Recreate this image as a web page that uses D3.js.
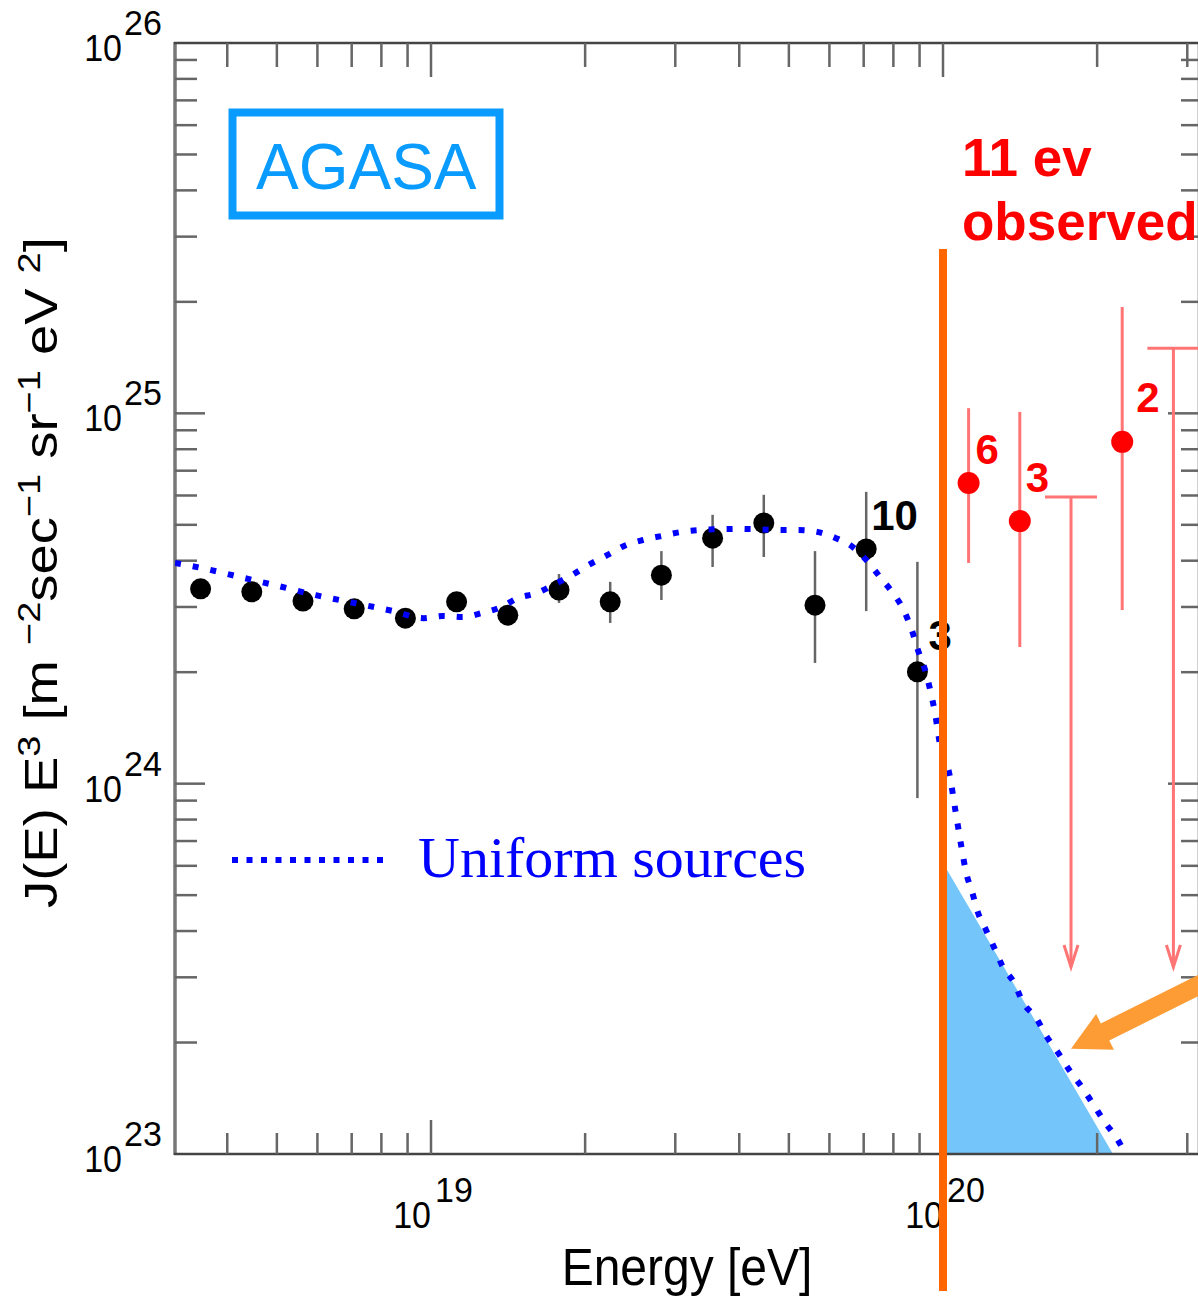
<!DOCTYPE html>
<html>
<head>
<meta charset="utf-8">
<script src="https://cdn.jsdelivr.net/npm/d3@7"></script>
<style>
body { margin: 0; background: #fff; }
svg { display: block; }
</style>
</head>
<body>
<svg></svg>
<script>
// AGASA spectrum, 0.1 decade bins. log10(E/eV), log10(J E^3)
const binLogE = [18.55, 18.65, 18.75, 18.85, 18.95, 19.05, 19.15, 19.25, 19.35, 19.45, 19.55, 19.65, 19.75, 19.85, 19.95];
const binLogJ = [24.526, 24.518, 24.493, 24.472, 24.447, 24.491, 24.455, 24.523, 24.491, 24.563, 24.663, 24.704, 24.482, 24.634, 24.302];
const binHi   = [24.546, 24.538, 24.513, 24.492, 24.467, 24.511, 24.475, 24.566, 24.545, 24.628, 24.726, 24.780, 24.628, 24.788, 24.599];
const binLo   = [24.506, 24.498, 24.473, 24.452, 24.427, 24.471, 24.435, 24.488, 24.434, 24.496, 24.585, 24.612, 24.326, 24.466, 23.961];
const binCount = [null, null, null, null, null, null, null, null, null, null, null, null, null, 10, 3];

// events above 1e20
const hiLogE = [20.05, 20.15, 20.35];
const hiLogJ = [24.812, 24.709, 24.923];
const hiHi   = [25.014, 25.004, 25.287];
const hiLo   = [24.596, 24.369, 24.469];
const hiCount = [6, 3, 2];

// upper limits
const limLogE = [20.25, 20.45];
const limLogJ = [24.774, 25.176];
const limFloor = 23.505;

// uniform sources model
const curveLogE = [18.500, 18.553, 18.627, 18.701, 18.775, 18.850, 18.926, 18.986, 19.023, 19.061, 19.100, 19.137, 19.170, 19.207, 19.242, 19.275, 19.307, 19.344, 19.377, 19.414, 19.451, 19.490, 19.525, 19.602, 19.678, 19.717, 19.754, 19.791, 19.824, 19.852, 19.877, 19.902, 19.922, 19.939, 19.951, 19.965, 19.975, 19.984, 19.996, 20.012, 20.025, 20.037, 20.045, 20.057, 20.068, 20.084, 20.102, 20.117, 20.139, 20.156, 20.182, 20.203, 20.225, 20.248, 20.271, 20.293, 20.316, 20.340, 20.355, 20.365];
const curveLogJ = [24.596, 24.582, 24.558, 24.534, 24.509, 24.488, 24.466, 24.447, 24.453, 24.450, 24.461, 24.477, 24.501, 24.515, 24.539, 24.563, 24.590, 24.617, 24.642, 24.658, 24.669, 24.680, 24.685, 24.688, 24.685, 24.685, 24.680, 24.663, 24.639, 24.601, 24.558, 24.515, 24.472, 24.415, 24.361, 24.307, 24.253, 24.194, 24.091, 24.029, 23.921, 23.821, 23.761, 23.707, 23.653, 23.605, 23.551, 23.505, 23.462, 23.410, 23.367, 23.316, 23.273, 23.224, 23.181, 23.135, 23.086, 23.041, 23.005, 22.984];

// expected region above the cut
const shadeLogE = [20.0, 20.0, 20.332];
const shadeLogJ = [23.786, 23.0, 23.0];
const cutLogE = 20.0;
const cutLogJ = [25.444, 22.63];
const arrowLogE = [20.56, 20.25];
const arrowLogJ = [23.497, 23.284];

const width = 1198;
const height = 1296;
const margin = { top: 43, right: 0, bottom: 142, left: 175 };

const svg = d3.select('svg').attr('width', width).attr('height', height);
const sans = 'Liberation Sans, Arial, Helvetica, sans-serif';

const x = d3.scaleLog().domain([10 ** 18.5, 10 ** 20.5]).range([175, 1199]);
const y = d3.scaleLog().domain([1e23, 1e26]).range([1154, 43]);
const X = v => x(10 ** v);
const Y = v => y(10 ** v);

svg.append('clipPath').attr('id', 'plot')
    .append('rect').attr('x', 175).attr('y', 43).attr('width', 1024).attr('height', 1111);

// shaded region
svg.append('path')
    .attr('d', d3.line()(shadeLogE.map((e, i) => [X(e), Y(shadeLogJ[i])])) + 'Z')
    .attr('fill', '#74c5fa')
    .attr('stroke', 'none');
svg.append('line')
    .attr('x1', X(shadeLogE[0]) + 2).attr('x2', X(shadeLogE[1]) + 2)
    .attr('y1', Y(shadeLogJ[0])).attr('y2', Y(shadeLogJ[1]))
    .attr('stroke', '#777').attr('stroke-width', 3);

// axes frame
const frame = svg.append('g');
frame.append('line').attr('x1', 175).attr('x2', 175).attr('y1', 42).attr('y2', 1155)
    .attr('stroke', '#777').attr('stroke-width', 3.5);
frame.append('line').attr('x1', 174).attr('x2', 1199).attr('y1', 1154).attr('y2', 1154)
    .attr('stroke', '#444').attr('stroke-width', 2.5);
frame.append('line').attr('x1', 174).attr('x2', 1199).attr('y1', 43).attr('y2', 43)
    .attr('stroke', '#444').attr('stroke-width', 2.5);
frame.append('line').attr('x1', 1199).attr('x2', 1199).attr('y1', 43).attr('y2', 1154)
    .attr('stroke', '#444').attr('stroke-width', 2.5);

const isMajor = t => Math.abs(Math.log10(t) - Math.round(Math.log10(t))) < 1e-6;

const xt = x.ticks().filter(t => x(t) > 176 && x(t) < 1198);
frame.selectAll('.xb').data(xt).join('line')
    .attr('x1', d => x(d)).attr('x2', d => x(d))
    .attr('y1', 1154).attr('y2', d => 1154 - (isMajor(d) ? 34 : 21))
    .attr('stroke', '#666').attr('stroke-width', 2.5);
frame.selectAll('.xt').data(xt).join('line')
    .attr('x1', d => x(d)).attr('x2', d => x(d))
    .attr('y1', 43).attr('y2', d => 43 + (isMajor(d) ? 34 : 24))
    .attr('stroke', '#666').attr('stroke-width', 2.5);

const yt = y.ticks().filter(t => y(t) > 44 && y(t) < 1153);
frame.selectAll('.yl').data(yt).join('line')
    .attr('x1', 175).attr('x2', d => 175 + (isMajor(d) ? 30 : 22))
    .attr('y1', d => y(d)).attr('y2', d => y(d))
    .attr('stroke', '#666').attr('stroke-width', 2.5);
frame.selectAll('.yr').data(yt).join('line')
    .attr('x1', 1199).attr('x2', d => 1199 - (isMajor(d) ? 31 : 18))
    .attr('y1', d => y(d)).attr('y2', d => y(d))
    .attr('stroke', '#666').attr('stroke-width', 2.5);

// tick labels, 10^n
function stretched(g, tx, ty, str, size, anchor, sy) {
    return g.append('text')
        .attr('transform', `translate(${tx},${ty}) scale(1,${sy})`)
        .attr('font-family', sans).attr('font-size', size)
        .attr('text-anchor', anchor).attr('fill', '#000')
        .text(str);
}
const labels = svg.append('g');
y.ticks().filter(isMajor).forEach(t => {
    const p = y(t);
    stretched(labels, 122, p + 18, '10', 34, 'end', 1.1);
    stretched(labels, 124, p - 8, String(Math.round(Math.log10(t))), 34, 'start', 1.05);
});
x.ticks().filter(isMajor).forEach(t => {
    const p = x(t);
    stretched(labels, p, 1228, '10', 34, 'end', 1.1);
    stretched(labels, p + 4, 1202, String(Math.round(Math.log10(t))), 34, 'start', 1.05);
});

// axis titles
stretched(labels, 687, 1285, 'Energy [eV]', 48, 'middle', 1.08);

const yTitle = labels.append('text')
    .attr('font-family', sans).attr('font-size', 46).attr('fill', '#000');
const parts = [['J(E) E', 0], ['3', 1], [' [m ', 0], ['\u22122', 1], ['sec', 0], ['\u22121', 1],
               [' sr', 0], ['\u22121', 1], [' eV ', 0], ['2', 1], [']', 0]];
let lifted = false;
parts.forEach(([s, sup]) => {
    const ts = yTitle.append('tspan').text(s).attr('font-size', sup ? 32 : 46);
    if (sup && !lifted) { ts.attr('dy', -17); lifted = true; }
    else if (!sup && lifted) { ts.attr('dy', 17); lifted = false; }
});
const titleLen = yTitle.node().getComputedTextLength();
yTitle.attr('transform', `translate(57,908) rotate(-90) scale(${671 / titleLen},1)`);

// AGASA points
const pts = svg.append('g');
pts.selectAll('.eb').data(binLogE).join('line')
    .attr('x1', d => X(d)).attr('x2', d => X(d))
    .attr('y1', (d, i) => Y(binHi[i])).attr('y2', (d, i) => Y(binLo[i]))
    .attr('stroke', '#666').attr('stroke-width', 2.5);
pts.selectAll('circle').data(binLogE).join('circle')
    .attr('cx', d => X(d)).attr('cy', (d, i) => Y(binLogJ[i]))
    .attr('r', 10.5).attr('fill', '#000');

const countOffset = { 13: [5, -19], 14: [11, -22] };
binCount.forEach((c, i) => {
    if (c === null) return;
    const o = countOffset[i];
    pts.append('text')
        .attr('x', X(binLogE[i]) + o[0]).attr('y', Y(binLogJ[i]) + o[1])
        .attr('font-family', sans).attr('font-weight', 'bold').attr('font-size', 42)
        .attr('fill', '#000').text(c);
});

// model curve
svg.append('path')
    .attr('clip-path', 'url(#plot)')
    .attr('d', d3.line().x(d => X(d[0])).y(d => Y(d[1])).curve(d3.curveMonotoneX)(curveLogE.map((e, i) => [e, curveLogJ[i]])))
    .attr('fill', 'none').attr('stroke', '#0000ff')
    .attr('stroke-width', 6).attr('stroke-dasharray', '6 12');

// high energy events
const hi = svg.append('g');
hi.selectAll('.eb').data(hiLogE).join('line')
    .attr('x1', d => X(d)).attr('x2', d => X(d))
    .attr('y1', (d, i) => Y(hiHi[i])).attr('y2', (d, i) => Y(hiLo[i]))
    .attr('stroke', '#ff7474').attr('stroke-width', 3);
hi.selectAll('circle').data(hiLogE).join('circle')
    .attr('cx', d => X(d)).attr('cy', (d, i) => Y(hiLogJ[i]))
    .attr('r', 11).attr('fill', '#ff0000');
const hiOffset = [[7, -19], [6, -29], [14, -30]];
hi.selectAll('.cnt').data(hiCount).join('text')
    .attr('x', (d, i) => X(hiLogE[i]) + hiOffset[i][0])
    .attr('y', (d, i) => Y(hiLogJ[i]) + hiOffset[i][1])
    .attr('font-family', sans).attr('font-weight', 'bold').attr('font-size', 42)
    .attr('fill', '#ff0000').text(d => d);

limLogE.forEach((e, i) => {
    const cx = X(e), top = Y(limLogJ[i]), bot = Y(limFloor);
    hi.append('line').attr('x1', cx - 26).attr('x2', cx + 26).attr('y1', top).attr('y2', top)
        .attr('stroke', '#ff7474').attr('stroke-width', 3);
    hi.append('line').attr('x1', cx).attr('x2', cx).attr('y1', top).attr('y2', bot)
        .attr('stroke', '#ff7474').attr('stroke-width', 3);
    hi.append('path')
        .attr('d', `M${cx - 7},${bot - 22}L${cx},${bot}L${cx + 7},${bot - 22}`)
        .attr('fill', 'none').attr('stroke', '#ff7474').attr('stroke-width', 3);
});

// GZK cut line
svg.append('line')
    .attr('x1', X(cutLogE)).attr('x2', X(cutLogE))
    .attr('y1', Y(cutLogJ[0])).attr('y2', Y(cutLogJ[1]))
    .attr('stroke', '#ff6600').attr('stroke-width', 8);

// arrow to the model
{
    const t0 = [X(arrowLogE[0]), Y(arrowLogJ[0])];
    const tip = [X(arrowLogE[1]), Y(arrowLogJ[1])];
    const dx = t0[0] - tip[0], dy = t0[1] - tip[1];
    const len = Math.hypot(dx, dy);
    const u = [dx / len, dy / len], n = [-u[1], u[0]];
    const hl = 38, hw = 20, sw = 9.5;
    const b = [tip[0] + u[0] * hl, tip[1] + u[1] * hl];
    const pt = (p, k, m) => [p[0] + n[0] * k + u[0] * m, p[1] + n[1] * k + u[1] * m];
    const poly = [tip, pt(b, hw, 0), pt(b, sw, 0), pt(t0, sw, 0), pt(t0, -sw, 0), pt(b, -sw, 0), pt(b, -hw, 0)];
    svg.append('path').attr('d', d3.line()(poly) + 'Z').attr('fill', '#fd9b35');
}

// annotations
svg.append('rect')
    .attr('x', 232.5).attr('y', 112.5).attr('width', 267).attr('height', 103)
    .attr('fill', 'none').attr('stroke', '#0a9bff').attr('stroke-width', 8);
svg.append('text')
    .attr('x', 256).attr('y', 189)
    .attr('font-family', sans).attr('font-size', 64).attr('fill', '#0a9bff')
    .text('AGASA');

const obs = svg.append('text')
    .attr('font-family', sans).attr('font-weight', 'bold').attr('font-size', 53).attr('fill', '#ff0000');
obs.append('tspan').attr('x', 962).attr('y', 176).text('11 ev');
obs.append('tspan').attr('x', 962).attr('y', 240).text('observed');

svg.append('line')
    .attr('x1', 232).attr('x2', 387).attr('y1', 860).attr('y2', 860)
    .attr('stroke', '#0000ff').attr('stroke-width', 6).attr('stroke-dasharray', '6 8.5');
svg.append('text')
    .attr('x', 418).attr('y', 877)
    .attr('font-family', 'Liberation Serif, Times New Roman, serif').attr('font-size', 58)
    .attr('fill', '#0000ff')
    .text('Uniform sources');
</script>
</body>
</html>
